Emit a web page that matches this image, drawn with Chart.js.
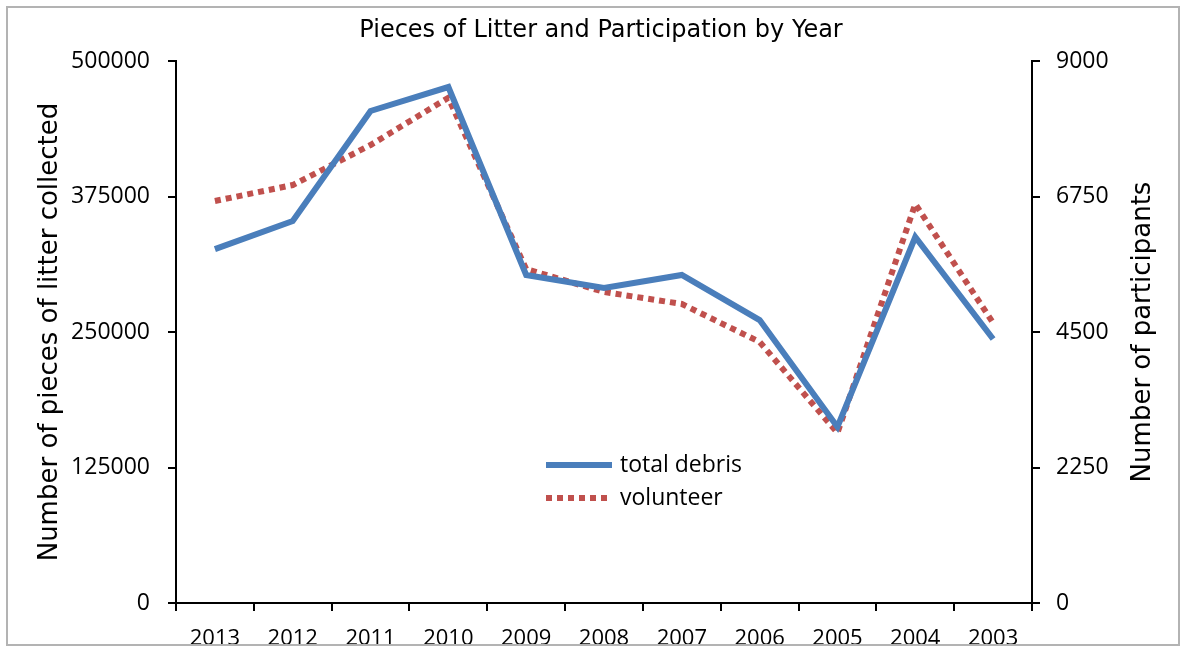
<!DOCTYPE html>
<html>
<head>
<meta charset="utf-8">
<title>Pieces of Litter and Participation by Year</title>
<script src="https://cdn.jsdelivr.net/npm/chart.js@4.4.1/dist/chart.umd.min.js"></script>
<style>
  html, body { margin: 0; padding: 0; background: #fff; }
  #wrap { position: relative; width: 1189px; height: 654px; }
  #frame { position: absolute; left: 6px; top: 6px; width: 1174px; height: 640px; border: 2px solid #b3b3b3; box-sizing: border-box; pointer-events: none; }
</style>
</head>
<body>
<div id="wrap">
  <canvas id="litterChart" width="1189" height="654"></canvas>
  <div id="frame"></div>
</div>
<script>
const years = ['2013', '2012', '2011', '2010', '2009', '2008', '2007', '2006', '2005', '2004', '2003'];
const totalDebris = [326500, 352400, 453900, 476000, 302600, 290600, 302600, 261000, 162400, 337600, 243500];
const volunteers = [6675, 6940, 7605, 8390, 5545, 5165, 4965, 4335, 2825, 6625, 4650];
const leftTicks = [0, 125000, 250000, 375000, 500000];
const rightTicks = [0, 2250, 4500, 6750, 9000];

const TITLE_FONT = 'DejaVu Sans';
const FONT = 'Open Sans';
const BLUE = '#4a7ebb';
const RED = '#c0504d';

// title, right axis title and legend drawn by hand (Excel-style, legend inside the plot)
const extras = {
  id: 'extras',
  afterDraw(chart) {
    const ctx = chart.ctx;
    ctx.save();
    ctx.fillStyle = '#000';
    ctx.textBaseline = 'middle';

    ctx.font = '24px "' + TITLE_FONT + '"';
    ctx.textAlign = 'center';
    ctx.fillText('Pieces of Litter and Participation by Year', 601, 31);

    ctx.save();
    ctx.translate(1143, 332);
    ctx.rotate(-Math.PI / 2);
    ctx.font = '26px "' + TITLE_FONT + '"';
    ctx.fillText('Number of participants', 0, 0);
    ctx.restore();

    ctx.font = '23px "' + FONT + '"';
    const rows = [465, 498];
    chart.data.datasets.forEach((ds, i) => {
      const y = rows[i];
      ctx.beginPath();
      ctx.strokeStyle = ds.borderColor;
      ctx.lineWidth = ds.borderWidth;
      ctx.setLineDash(ds.borderDash || []);
      ctx.moveTo(546, y);
      ctx.lineTo(612, y);
      ctx.stroke();
      ctx.setLineDash([]);
      ctx.textAlign = 'left';
      ctx.fillStyle = '#000';
      ctx.fillText(ds.label, 620, y);
    });
    ctx.restore();
  }
};

const axisBorder = { display: true, color: '#000', width: 2 };
const plain = v => String(v);

new Chart(document.getElementById('litterChart').getContext('2d'), {
  type: 'line',
  data: {
    labels: years,
    datasets: [
      {
        label: 'total debris',
        data: totalDebris,
        yAxisID: 'y',
        borderColor: BLUE,
        borderWidth: 6,
        pointRadius: 0,
        tension: 0,
        borderJoinStyle: 'miter'
      },
      {
        label: 'volunteer',
        data: volunteers,
        yAxisID: 'y1',
        borderColor: RED,
        borderWidth: 6,
        borderDash: [6, 5],
        pointRadius: 0,
        tension: 0
      }
    ]
  },
  options: {
    responsive: false,
    animation: false,
    layout: { padding: { top: 61, left: 0, right: 0, bottom: 0 } },
    plugins: {
      legend: { display: false },
      title: { display: false },
      tooltip: { enabled: false }
    },
    scales: {
      x: {
        offset: true,
        grid: { offset: true, drawOnChartArea: false, color: '#000', lineWidth: 2, tickLength: 8 },
        border: axisBorder,
        ticks: { color: '#000', font: { family: FONT, size: 22 }, padding: 15, maxRotation: 0 },
        afterFit(scale) { scale.height = 51; }
      },
      y: {
        position: 'left',
        min: 0,
        max: 500000,
        afterBuildTicks(scale) { scale.ticks = leftTicks.map(v => ({ value: v })); },
        grid: { drawOnChartArea: false, color: '#000', lineWidth: 2, tickLength: 8 },
        border: axisBorder,
        ticks: { color: '#000', font: { family: FONT, size: 23 }, padding: 18, callback: plain },
        title: {
          display: true,
          text: 'Number of pieces of litter collected',
          color: '#000',
          font: { family: TITLE_FONT, size: 26 },
          padding: { top: 35, bottom: 0 }
        },
        afterFit(scale) { scale.width = 176; }
      },
      y1: {
        position: 'right',
        min: 0,
        max: 9000,
        afterBuildTicks(scale) { scale.ticks = rightTicks.map(v => ({ value: v })); },
        grid: { drawOnChartArea: false, color: '#000', lineWidth: 2, tickLength: 8 },
        border: axisBorder,
        ticks: { color: '#000', font: { family: FONT, size: 23 }, padding: 16, callback: plain },
        afterFit(scale) { scale.width = 157; }
      }
    }
  },
  plugins: [extras]
});
</script>
</body>
</html>
